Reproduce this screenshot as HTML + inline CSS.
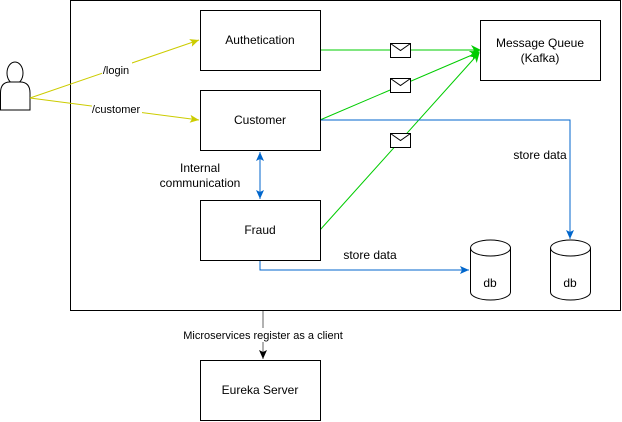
<!DOCTYPE html>
<html><head><meta charset="utf-8"><style>
html,body{margin:0;padding:0;background:#fff;}
svg{display:block;font-family:"Liberation Sans",Arial,sans-serif;}
</style></head><body>
<svg width="622" height="422" viewBox="0 0 622 422" xmlns="http://www.w3.org/2000/svg">
<defs>
<marker id="ag" markerWidth="10" markerHeight="10" refX="9" refY="5" orient="auto" markerUnits="userSpaceOnUse"><path d="M0,0 L10,5 L0,10 L3,5 Z" fill="#00cc00"/></marker>
<marker id="ay" markerWidth="10" markerHeight="10" refX="9" refY="5" orient="auto" markerUnits="userSpaceOnUse"><path d="M0,1 L9,5 L0,9 L2,5 Z" fill="#cccc00"/></marker>
<marker id="ab" markerWidth="10" markerHeight="10" refX="9" refY="5" orient="auto" markerUnits="userSpaceOnUse"><path d="M0,1 L9,5 L0,9 L2,5 Z" fill="#0066cc"/></marker>
<marker id="ab2" markerWidth="10" markerHeight="10" refX="1" refY="5" orient="auto" markerUnits="userSpaceOnUse"><path d="M10,1 L1,5 L10,9 L8,5 Z" fill="#0066cc"/></marker>
<marker id="ak" markerWidth="10" markerHeight="10" refX="9" refY="5" orient="auto" markerUnits="userSpaceOnUse"><path d="M0,1 L9,5 L0,9 L2,5 Z" fill="#000"/></marker>
</defs>
<rect x="70.5" y="0.5" width="550" height="310" fill="#fff" stroke="#000"/>
<ellipse cx="15" cy="73" rx="8" ry="11" fill="#fff" stroke="#000"/>
<path d="M0.5,110 L0.5,93 Q0.5,82 10,82 L20,82 Q30,82 30,93 L30,110 Z" fill="#fff" stroke="#000"/>
<line x1="30" y1="98" x2="199" y2="40" stroke="#cccc00" marker-end="url(#ay)"/>
<line x1="30" y1="98" x2="199" y2="120" stroke="#cccc00" marker-end="url(#ay)"/>
<rect x="102" y="62" width="30" height="14" fill="#fff"/>
<text x="116" y="74" font-size="11" text-anchor="middle">/login</text>
<rect x="92" y="102" width="50" height="14" fill="#fff"/>
<text x="116" y="113" font-size="11" text-anchor="middle">/customer</text>
<line x1="320" y1="50" x2="480" y2="50" stroke="#00cc00" marker-end="url(#ag)"/>
<line x1="320" y1="120" x2="479" y2="52" stroke="#00cc00" marker-end="url(#ag)"/>
<line x1="320" y1="230" x2="479" y2="53" stroke="#00cc00" marker-end="url(#ag)"/>
<polyline points="320,120 570,120 570,239" fill="none" stroke="#0066cc" marker-end="url(#ab)"/>
<polyline points="260,260 260,270 469,270" fill="none" stroke="#0066cc" marker-end="url(#ab)"/>
<line x1="260" y1="152" x2="260" y2="199" stroke="#0066cc" marker-end="url(#ab)" marker-start="url(#ab2)"/>
<rect x="200.5" y="10.5" width="120" height="60" fill="#fff" stroke="#000"/>
<text x="260" y="44" font-size="12" text-anchor="middle">Authetication</text>
<rect x="200.5" y="90.5" width="120" height="60" fill="#fff" stroke="#000"/>
<text x="260" y="124" font-size="12" text-anchor="middle">Customer</text>
<rect x="200.5" y="200.5" width="120" height="60" fill="#fff" stroke="#000"/>
<text x="260" y="234" font-size="12" text-anchor="middle">Fraud</text>
<rect x="480.5" y="20.5" width="120" height="60" fill="#fff" stroke="#000"/>
<text x="540" y="47" font-size="12" text-anchor="middle">Message Queue</text>
<text x="540" y="62" font-size="12" text-anchor="middle">(Kafka)</text>
<text x="200" y="172" font-size="12" text-anchor="middle">Internal</text>
<text x="200" y="187" font-size="12" text-anchor="middle">communication</text>
<text x="540" y="159" font-size="12" text-anchor="middle">store data</text>
<text x="370" y="259" font-size="12" text-anchor="middle">store data</text>
<g fill="#fff" stroke="#000">
<rect x="390.5" y="43.5" width="20" height="14"/><polyline points="390.5,43.5 400.5,50.5 410.5,43.5" fill="none"/>
<rect x="390.5" y="78.5" width="20" height="14"/><polyline points="390.5,78.5 400.5,85.5 410.5,78.5" fill="none"/>
<rect x="390.5" y="133.5" width="20" height="14"/><polyline points="390.5,133.5 400.5,140.5 410.5,133.5" fill="none"/>
</g>
<g fill="#fff" stroke="#000">
<path d="M470.5,248 L470.5,292 A20,8 0 0 0 510.5,292 L510.5,248"/>
<ellipse cx="490.5" cy="248" rx="20" ry="8"/>
<path d="M550.5,248 L550.5,292 A20,8 0 0 0 590.5,292 L590.5,248"/>
<ellipse cx="570.5" cy="248" rx="20" ry="8"/>
</g>
<text x="490" y="287" font-size="12" text-anchor="middle">db</text>
<text x="570" y="287" font-size="12" text-anchor="middle">db</text>
<line x1="263" y1="311" x2="263" y2="359" stroke="#666" marker-end="url(#ak)"/>
<rect x="180" y="328" width="166" height="14" fill="#fff"/>
<text x="263" y="339" font-size="11" text-anchor="middle">Microservices register as a client</text>
<rect x="200.5" y="360.5" width="120" height="60" fill="#fff" stroke="#000"/>
<text x="260" y="394" font-size="12" text-anchor="middle">Eureka Server</text>
</svg>
</body></html>
